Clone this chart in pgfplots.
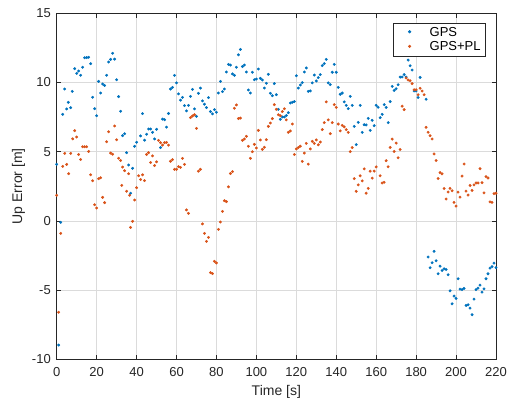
\documentclass[border=0pt]{standalone}
\usepackage{pgfplots}
\pgfplotsset{compat=1.18}
\usepackage{fontspec}
\setmainfont{Liberation Sans}
\definecolor{gpsblue}{rgb}{0,0.447,0.741}
\definecolor{plorange}{rgb}{0.85,0.325,0.098}
\definecolor{axgray}{rgb}{0.15,0.15,0.15}

\begin{document}
\begin{tikzpicture}
\begin{axis}[
  at={(0,0)}, anchor=south west,
  scale only axis,
  width=439.3pt, height=346pt,
  xmin=0, xmax=220, ymin=-10, ymax=15,
  xtick={0,20,...,220},
  ytick={-10,-5,0,5,10,15},
  yticklabels={-10,-5,0,5,10,15},
  tick align=inside,
  major tick length=4.5pt,
  axis line style={axgray, line width=0.7pt},
  every tick/.style={axgray, line width=0.7pt},
  grid=major,
  major grid style={line width=0.5pt, color=black!14},
  font=\fontsize{13pt}{15pt}\selectfont,
  tick label style={axgray},
  /pgf/number format/assume math mode=true,
  xticklabel style={yshift=-5pt},
  yticklabel style={xshift=-2.4pt},
  xlabel={Time [s]},
  ylabel={Up Error [m]},
  x label style={at={(axis description cs:0.5,0)}, anchor=center, yshift=-33pt, font=\fontsize{14pt}{16pt}\selectfont, axgray},
  y label style={at={(axis description cs:-0.087,0.5)}, anchor=center, font=\fontsize{14pt}{16pt}\selectfont, axgray},
  legend style={at={(axis description cs:0.977,0.972)}, anchor=north east,
    draw=axgray, line width=0.6pt, fill=white, inner xsep=5pt, inner ysep=4pt,
    row sep=4pt, font=\fontsize{13pt}{15pt}\selectfont,
    nodes={inner sep=0pt, anchor=base west, text=black}},
  legend cell align=left,
  legend image code/.code={\path[draw=none, fill=none] (0pt,-1.5pt) rectangle (31pt,7.5pt);
    \draw[#1] plot coordinates {(11pt,4.6pt)};},
]
\addplot[only marks, mark=*, mark size=1.25pt, color=gpsblue] table {
x y
0 4.09
1 -8.97
2 -0.1
3 7.70
4 9.53
5 8.09
5.8 8.57
7 8.18
7.8 9.36
9 11.0
10 10.66
11 10.83
12 10.52
13 11.10
14 11.79
15 11.80
16 11.82
17 11.36
18 8.93
19 8.11
20 7.60
21 10.08
22 9.24
23 9.89
24 9.79
25 10.52
26 11.48
27 11.67
28 12.11
29 11.69
30 10.20
31 8.98
32 7.92
33 6.16
34 6.30
35 4.93
36 4.04
37 2.0
38 3.80
39 5.39
40 5.68
42 6.14
43 7.75
44 5.83
45 6.26
46 6.64
47 6.64
48 6.40
49 5.92
50 6.62
52 5.30
53 7.36
54 7.31
55 6.78
56 7.76
57 9.53
58 9.65
59 10.52
60 9.97
61 9.18
62 8.72
63 8.93
64 8.33
65 7.95
66 8.35
67 9.0
68 9.5
69 8.09
70 7.56
71 9.22
72 9.6
73 8.67
74 8.43
75 8.19
76 8.91
77 7.9
78 7.73
79 8.04
80 7.85
81 9.24
82 10.08
83 9.34
84 9.53
85 10.76
86 11.31
87 11.26
88 10.62
89 10.52
90 11.1
91 12.0
92 12.39
93 11.15
94 11.26
95 10.76
96 9.46
97 9.24
98 10.74
99 10.2
100 10.25
101 10.97
102 10.3
103 10.18
104 9.6
105 9.94
106 10.59
107 9.22
108 9.05
109 9.92
110 9.12
111 8.06
112 7.34
113 7.51
114 7.51
115 7.61
116 7.82
117 8.52
118 8.57
119 8.62
120 10.49
121 9.6
122 9.82
123 9.99
124 10.76
125 11.05
126 9.36
127 9.39
128 9.97
129 10.54
130 10.11
131 10.35
132 10.57
133 11.22
134 11.36
135 11.67
136 9.97
137 9.85
138 10.74
139 11.31
140 10.74
141 9.65
142 9.15
143 9.24
144 8.6
145 8.35
146 8.11
147 9.0
148 8.35
149 6.83
150 5.51
151 7.12
152 8.35
153 6.40
154 6.95
155 6.93
156 7.41
157 6.54
158 7.27
159 6.88
160 8.35
161 8.21
162 7.46
163 7.7
164 8.4
165 8.2
166 7.1
167 8.62
168 9.72
169 9.43
170 9.55
171 9.84
172 10.39
173 10.4
174 10.57
175 10.39
176 11.62
177 11.21
178 10.9
179 9.39
180 9.39
181 8.91
182 10.37
185 8.79
186 -2.61
187 -3.38
188 -3.02
189 -2.2
190 -2.88
191 -3.82
192 -3.27
193 -3.58
194 -3.46
195 -3.51
196 -3.89
197 -5.05
198 -5.99
199 -5.43
200 -5.6
201 -4.18
202 -4.93
203 -4.96
204 -4.88
205 -6.11
206 -6.06
207 -6.3
208 -6.78
209 -5.65
210 -4.96
211 -4.86
212 -4.64
213 -5.15
214 -4.91
215 -4.18
216 -3.82
217 -3.41
218 -3.31
219 -3.05
220 -3.38
};
\addlegendentry{GPS}
\addplot[only marks, mark=*, mark size=1.25pt, color=plorange] table {
x y
0 1.85
1 -6.6
2 -0.9
3 3.94
4 4.88
5 4.08
6 3.41
7 4.88
8 5.93
9 6.52
10 6.06
11 4.80
12 4.44
13 5.36
14 5.36
15 5.36
16 5.02
17 3.33
18 2.90
19 1.17
20 0.93
21 3.05
22 3.12
23 1.70
24 1.32
25 5.72
26 6.44
27 4.9
28 4.82
29 6.86
30 5.86
31 4.53
32 4.36
32.6 2.57
33 3.89
34 3.63
35 2.14
36 3.41
36.5 1.85
37 -0.47
38 -0.03
39 1.51
40 2.40
41 3.26
42 2.99
43 3.33
44 2.91
45 4.80
46 4.93
47 4.22
48 4.70
49 4.0
50 4.27
51 5.82
52 5.65
53 5.48
54 5.65
55 5.67
56 5.48
57 4.31
58 4.43
59 3.73
60 3.73
61 3.92
62 3.87
63 4.52
64 4.09
65 0.79
66 0.55
67 7.46
68 7.58
69 7.67
70 6.69
71 3.59
72 3.73
73 -0.22
74 -0.90
75 -1.48
76 -1.19
77 -3.74
78 -3.81
79 -2.92
80 -3.04
81 -0.61
82 -0.08
83 0.69
84 1.46
85 1.39
86 2.46
87 3.42
88 3.56
89 8.14
90 8.38
91 7.39
92 7.43
93 5.82
94 5.92
95 6.11
96 5.39
97 4.52
98 5.0
99 5.53
100 5.27
101 6.54
102 5.85
103 5.17
104 5.32
105 5.87
106 6.83
107 7.07
108 7.39
109 8.4
110 8.06
111 7.67
112 7.6
113 7.9
114 8.1
115 7.3
116 6.4
117 6.5
118 7.0
119 4.8
120 5.2
121 5.3
122 5.4
123 4.3
124 4.9
125 5.6
126 4.1
127 5.2
128 5.75
129 5.6
130 5.85
131 5.5
132 5.7
133 6.6
134 7.1
135 8.6
136 7.3
137 6.3
138 7.1
139 8.4
140 8.2
141 7.0
142 6.5
143 6.9
144 6.8
145 6.6
146 6.4
147 5.0
148 5.3
149 3.05
150 2.14
151 2.6
152 3.26
153 2.89
154 3.76
155 2.0
156 2.35
157 3.59
158 3.09
159 3.6
160 3.9
162 3.26
163 2.74
164 2.79
165 4.35
166 3.91
167 5.31
168 5.91
169 5.02
170 5.62
171 4.56
172 5.16
173 8.29
174 8.04
175 10.33
176 10.18
177 10.13
178 9.92
179 9.48
180 9.48
181 9.12
182 9.58
183 9.38
184 9.12
185 6.76
186 6.40
187 6.16
188 5.92
189 4.84
190 4.36
191 3.06
192 3.49
193 3.40
194 2.34
195 1.58
196 2.09
197 2.35
198 2.18
199 1.34
200 1.07
201 2.08
202 1.72
203 3.24
204 4.11
205 2.15
206 1.87
207 2.56
208 2.2
209 2.6
210 2.74
211 2.74
212 3.77
213 2.76
214 2.03
215 3.2
216 3.1
217 1.37
218 1.34
219 1.97
220 2.0
};
\addlegendentry{GPS+PL}
\end{axis}
\pgfresetboundingbox
\useasboundingbox (-56.7pt,-47.7pt) rectangle (455.3pt,359.3pt);
\end{tikzpicture}
\end{document}
